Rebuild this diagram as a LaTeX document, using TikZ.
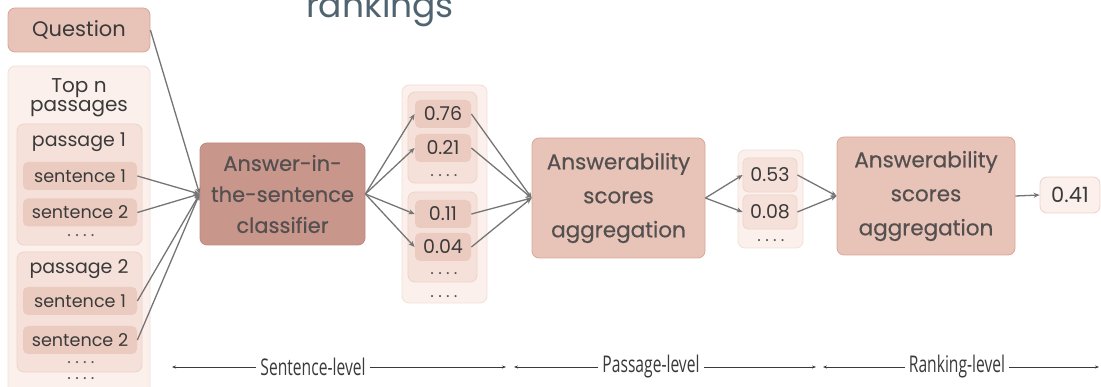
\documentclass[tikz,border=0pt]{standalone}
\usepackage{fontspec}
\setmainfont{Poppins}
\newfontfamily\medfont[FakeBold=0.5]{Poppins}
\newfontfamily\dotfont[LetterSpace=25]{Poppins}
\newfontfamily\labelfont[FakeStretch=0.68]{Open Sans}
\usetikzlibrary{arrows.meta}
\definecolor{ink}{HTML}{3A3A3A}
\definecolor{dotink}{HTML}{5A5A5A}
\definecolor{boldink}{HTML}{555050}
\definecolor{wire}{HTML}{757575}
\definecolor{qfill}{HTML}{E8C3B8}
\definecolor{qdraw}{HTML}{D9A697}
\definecolor{panelfill}{HTML}{FBF0EC}
\definecolor{paneldraw}{HTML}{F2DFD7}
\definecolor{groupfill}{HTML}{F5E1D9}
\definecolor{groupdraw}{HTML}{EDD3C9}
\definecolor{itemfill}{HTML}{EBCBBF}
\definecolor{clsfill}{HTML}{C9968B}
\definecolor{clsdraw}{HTML}{BF8A7F}
\definecolor{titleink}{HTML}{506470}
\tikzset{
  box/.style={rectangle, rounded corners=7pt, inner sep=0pt, line width=0.8pt},
  qbox/.style={box, fill=qfill, draw=qdraw, text=ink, font=\fontsize{21}{24}\selectfont},
  panel/.style={box, fill=panelfill, draw=paneldraw},
  group/.style={box, fill=groupfill, draw=groupdraw},
  item/.style={box, rounded corners=5pt, fill=itemfill, draw=none, text=ink},
  sent/.style={item, minimum width=114pt, minimum height=28pt, font=\fontsize{17.6}{20}\selectfont},
  score/.style={item, minimum width=56pt, minimum height=28pt, font=\fontsize{19}{22}\selectfont},
  txt/.style={text=ink, inner sep=0pt},
  dots/.style={text=dotink, inner sep=0pt, text height=2pt, text depth=0pt,
    font=\dotfont\fontsize{17}{17}\selectfont},
  cls/.style={box, fill=clsfill, draw=clsdraw, text=boldink, align=center,
    font=\medfont\fontsize{21}{31}\selectfont},
  agg/.style={box, fill=qfill, draw=qdraw, text=boldink, align=center,
    font=\medfont\fontsize{21.5}{34}\selectfont},
  wirearrow/.style={draw=wire, line width=1.3pt, -{Stealth[length=6pt,width=5pt]}},
  span/.style={draw=ink, line width=0.7pt, -{Stealth[length=4pt,width=3pt]}},
  spantext/.style={text=ink, inner sep=0pt, font=\labelfont\fontsize{23}{26}\selectfont},
}
\begin{document}
\begin{tikzpicture}[x=1pt, y=-1pt]
\useasboundingbox (0,0) rectangle (1101,387);
\clip (0,0) rectangle (1101,387);

% title fragment running off the top edge
\node[anchor=base, text=titleink, inner sep=0pt, font=\fontsize{34.5}{34}\selectfont] (title) at (380,18) {rankings};

% inputs: question and retrieved passages
\node[qbox, minimum width=142pt, minimum height=44pt] (question) at (79,30) {Question};
\node[panel, minimum width=142pt, minimum height=330pt] (passages) at (79,231) {};
\node[txt, align=center, font=\fontsize{20}{19}\selectfont] (topn) at (79,98) {Top n\\passages};

\node[group, minimum width=125pt, minimum height=121pt] (p1) at (79.5,184.5) {};
\node[txt, font=\fontsize{19}{22}\selectfont] (p1title) at (79,142) {passage 1};
\node[sent] (s11) at (80,176) {sentence 1};
\node[sent] (s12) at (80,212.5) {sentence 2};
\node[dots] (p1dots) at (81,236) {....};

\node[group, minimum width=125pt, minimum height=120pt] (p2) at (79.5,312) {};
\node[txt, font=\fontsize{19}{22}\selectfont] (p2title) at (79,269) {passage 2};
\node[sent] (s21) at (80,301) {sentence 1};
\node[sent] (s22) at (80,340) {sentence 2};
\node[dots] (p2dots) at (81,362) {....};
\node[dots] (alldots) at (81,379) {....};

% sentence classifier
\node[cls, minimum width=165pt, minimum height=102pt] (classifier) at (282.5,194)
  {Answer-in-\\the-sentence\\classifier};

% sentence scores
\node[panel, minimum width=85pt, minimum height=218pt] (scores) at (444.5,194) {};
\node[group, minimum width=69pt, minimum height=91pt] (sg1) at (442.5,137.5) {};
\node[score] (v76) at (443,114) {0.76};
\node[score] (v21) at (443,148) {0.21};
\node[dots] (sg1dots) at (444,176) {....};
\node[group, minimum width=69pt, minimum height=90pt] (sg2) at (442.5,237) {};
\node[score] (v11) at (443,214) {0.11};
\node[score] (v04) at (443,247) {0.04};
\node[dots] (sg2dots) at (444,274) {....};
\node[dots] (scoredots) at (444,297) {....};

% passage-level aggregation
\node[agg, minimum width=173pt, minimum height=120pt] (agg1) at (618.5,198)
  {Answerability\\scores\\aggregation};
\node[panel, minimum width=65pt, minimum height=98pt] (pscores) at (770.5,199) {};
\node[score, minimum width=54pt, minimum height=34pt, fill=groupfill, draw=groupdraw, line width=0.8pt] (v53) at (770,175) {0.53};
\node[score, minimum width=54pt, minimum height=34pt, fill=groupfill, draw=groupdraw, line width=0.8pt] (v08) at (770,212) {0.08};
\node[dots] (pdots) at (771,241) {....};

% ranking-level aggregation
\node[agg, minimum width=178pt, minimum height=118pt] (agg2) at (926,196)
  {Answerability\\scores\\aggregation};
\node[box, fill=panelfill, draw=groupdraw, text=ink, minimum width=60pt, minimum height=36pt,
  font=\fontsize{21}{24}\selectfont] (final) at (1070,195) {0.41};

% connectors
\foreach \src in {question, s11, s12, s21, s22}
  \draw[wirearrow] (\src.east) -- (classifier.west);
\foreach \dst in {v76, v21, v11, v04}
  \draw[wirearrow] (classifier.east) -- (\dst.west);
\foreach \src in {v76, v21, v11, v04}
  \draw[wirearrow] (\src.east) -- (agg1.west);
\foreach \dst in {v53, v08}
  \draw[wirearrow] (agg1.east) -- (\dst.west);
\foreach \src in {v53, v08}
  \draw[wirearrow] (\src.east) -- (agg2.west);
\draw[wirearrow] (agg2.east) -- (final.west);

% level spans along the bottom
\node[spantext] (lsent) at (313,367) {Sentence-level};
\node[spantext] (lpass) at (651,367) {Passage-level};
\node[spantext] (lrank) at (957,367) {Ranking-level};
\coordinate (sentL) at (172,367);
\coordinate (sentR) at (506,367);
\coordinate (passL) at (514,367);
\coordinate (passR) at (816,367);
\coordinate (rankL) at (823,367);
\coordinate (rankR) at (1099,367);
\draw[span] ([xshift=-4pt]lsent.west) -- (sentL);
\draw[span] ([xshift=4pt]lsent.east) -- (sentR);
\draw[span] ([xshift=-4pt]lpass.west) -- (passL);
\draw[span] ([xshift=4pt]lpass.east) -- (passR);
\draw[span] ([xshift=-4pt]lrank.west) -- (rankL);
\draw[span] ([xshift=4pt]lrank.east) -- (rankR);
\end{tikzpicture}
\end{document}
